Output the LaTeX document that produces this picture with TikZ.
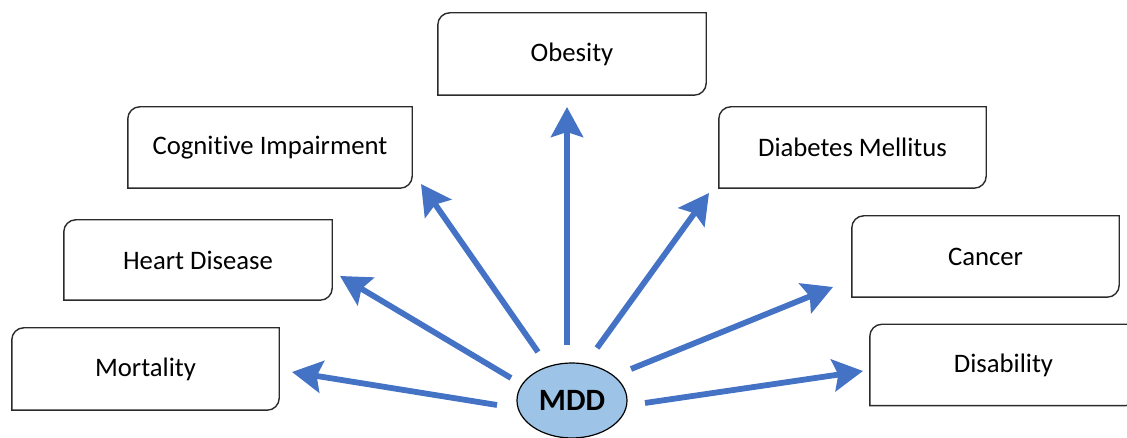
\documentclass[tikz,border=0pt]{standalone}
\usepackage{fontspec}
\setmainfont[Ligatures=CommonOff]{Carlito}
\usetikzlibrary{arrows.meta,shapes.geometric}
\definecolor{arrowblue}{HTML}{4472C4}
\definecolor{mddfill}{HTML}{9DC3E6}
\definecolor{boxline}{HTML}{2B2B2B}
\tikzset{
  lbl/.style={inner sep=0pt, font=\fontsize{26.7}{32}\selectfont, text=black},
  conn/.style={draw=arrowblue, line width=5.8pt, -{Stealth[length=30pt,width=32pt,inset=5pt]}},
  outline/.style={draw=boxline, line width=1.4pt},
}
% \cbox{name}{cx}{cy}{w}{h}{text}
\newcommand{\cbox}[6]{%
  \node[lbl, minimum width=#4pt, minimum height=#5pt] (#1) at (#2,#3) {#6};
  \draw[outline] (#1.south west) -- ([yshift=-12pt]#1.north west)
     arc[start angle=180,end angle=90,radius=12pt] -- (#1.north east)
     -- ([yshift=12pt]#1.south east)
     arc[start angle=0,end angle=-90,radius=12pt] -- cycle;
}
\begin{document}
\begin{tikzpicture}[x=1pt,y=1pt]
\useasboundingbox (0,0) rectangle (1127,438);
\begin{scope}
\clip (0,0) rectangle (1127,438);
\cbox{obesity}{572}{384}{268}{82}{Obesity}
\cbox{cog}{270}{290.5}{284}{81}{Cognitive Impairment}
\cbox{diab}{852.5}{290.5}{267}{81}{Diabetes Mellitus}
\cbox{heart}{198}{178}{268}{80}{Heart Disease}
\cbox{cancer}{985.5}{181.5}{267}{81}{Cancer}
\cbox{mort}{145.5}{69}{267}{82}{Mortality}
\cbox{disab}{1003.5}{73}{267}{81}{Disability}
\node[ellipse, draw=black, line width=1.2pt, fill=mddfill, minimum width=110pt, minimum height=75pt, inner sep=0pt,
      font=\fontsize{31}{34}\selectfont\bfseries] (mdd) at (572,37.5) {MDD};
\end{scope}
% arrow ends
\coordinate (s1) at (497,33);  \coordinate (t1) at (292,66);
\coordinate (s2) at (511,60);  \coordinate (t2) at (340,162);
\coordinate (s3) at (538,86);  \coordinate (t3) at (421,254);
\coordinate (s4) at (567,93);  \coordinate (t4) at (567,331);
\coordinate (s5) at (597,90);  \coordinate (t5) at (709,245);
\coordinate (s6) at (631,69);  \coordinate (t6) at (833,151);
\coordinate (s7) at (645,35);  \coordinate (t7) at (863,67);
\foreach \i in {1,...,7} { \draw[conn] (s\i) -- (t\i); }
\end{tikzpicture}
\end{document}
